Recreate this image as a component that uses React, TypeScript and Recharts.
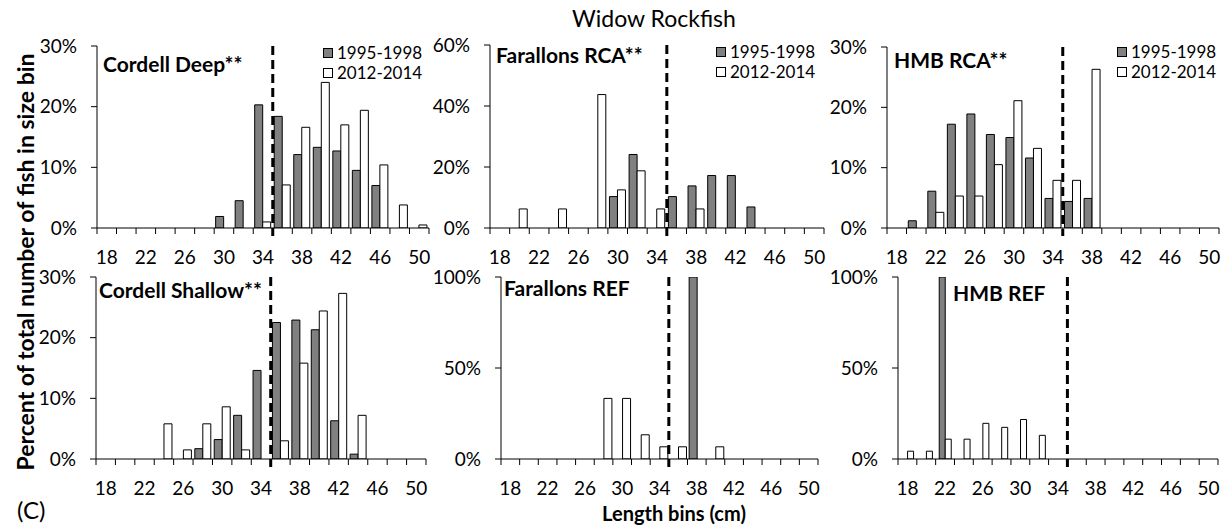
import { BarChart, Bar, XAxis, YAxis, ReferenceLine, Legend } from 'recharts';

// 2 cm length bins (lower edge); axis labels every other bin
const bins = [18, 20, 22, 24, 26, 28, 30, 32, 34, 36, 38, 40, 42, 44, 46, 48, 50];
const labelBins = [18, 22, 26, 30, 34, 38, 42, 46, 50];
const periods = ['1995-1998', '2012-2014'];
// the size cut-off (35 cm) sits on the right edge of the 34 bin
const cutoffBin = 34;

// percent of fish in each bin
const cordellDeep9598 = [0, 0, 0, 0, 0, 0, 1.9, 4.5, 20.3, 18.4, 12.1, 13.3, 12.7, 9.5, 7.0, 0, 0];
const cordellDeep1214 = [0, 0, 0, 0, 0, 0, 0, 0, 1.0, 7.1, 16.6, 24.0, 17.0, 19.4, 10.4, 3.8, 0.5];

const farallonsRca9598 = [0, 0, 0, 0, 0, 0, 10.3, 24.1, 0, 10.3, 13.8, 17.2, 17.2, 6.9, 0, 0, 0];
const farallonsRca1214 = [0, 6.25, 0, 6.25, 0, 43.75, 12.5, 18.75, 6.25, 0, 6.25, 0, 0, 0, 0, 0, 0];

const hmbRca9598 = [0, 1.2, 6.1, 17.2, 18.9, 15.5, 15.0, 11.6, 4.9, 4.4, 4.9, 0, 0, 0, 0, 0, 0];
const hmbRca1214 = [0, 0, 2.6, 5.3, 5.3, 10.5, 21.1, 13.2, 7.9, 7.9, 26.3, 0, 0, 0, 0, 0, 0];

const cordellShallow9598 = [0, 0, 0, 0, 0, 1.7, 3.2, 7.2, 14.6, 22.5, 22.9, 21.3, 6.3, 0.8, 0, 0, 0];
const cordellShallow1214 = [0, 0, 0, 5.8, 1.5, 5.8, 8.6, 1.5, 0, 3.0, 15.8, 24.4, 27.3, 7.2, 0, 0, 0];

const farallonsRef9598 = [0, 0, 0, 0, 0, 0, 0, 0, 0, 0, 100, 0, 0, 0, 0, 0, 0];
const farallonsRef1214 = [0, 0, 0, 0, 0, 33.3, 33.3, 13.3, 6.7, 6.7, 0, 6.7, 0, 0, 0, 0, 0];

const hmbRef9598 = [0, 0, 100, 0, 0, 0, 0, 0, 0, 0, 0, 0, 0, 0, 0, 0, 0];
const hmbRef1214 = [4.3, 4.3, 10.9, 10.9, 19.6, 17.4, 21.7, 13.0, 0, 0, 0, 0, 0, 0, 0, 0, 0];

const FONT = 'Lato, "Open Sans", sans-serif';
const GRAY = '#808080';

const YW = 70;
const MT = 16;
const MR = 10;
const XH = 44;

function makeRows(early: number[], late: number[]) {
  return bins.map((bin, i) => ({ bin, early: early[i], late: late[i] }));
}

const renderLegend = ({ payload }: any) => (
  <div style={{ fontFamily: FONT, fontSize: 17, lineHeight: '20px', color: '#000' }}>
    {(payload || []).map((entry: any) => (
      <div key={entry.value} style={{ display: 'flex', alignItems: 'center', whiteSpace: 'nowrap' }}>
        <span
          style={{
            display: 'inline-block',
            width: 8,
            height: 8,
            border: '1px solid #000',
            background: entry.color,
            marginRight: 4,
          }}
        />
        {entry.value}
      </div>
    ))}
  </div>
);

// dashed cut-off line, running a little below the axis as in the original
const cutoffShape = (p: any) => (
  <line
    x1={p.x1}
    x2={p.x2}
    y1={Math.min(p.y1, p.y2)}
    y2={Math.max(p.y1, p.y2) + 8}
    stroke="#000"
    strokeWidth={3}
    strokeDasharray="9 5"
  />
);

interface PanelProps {
  x0: number;
  top: number;
  pw: number;
  ph: number;
  yMax: number;
  yTicks: number[];
  early: number[];
  late: number[];
  gap: string;
  legendAt?: [number, number];
}

function Panel({ x0, top, pw, ph, yMax, yTicks, early, late, gap, legendAt }: PanelProps) {
  const left = x0 - YW;
  const chartTop = top - MT;
  const bw = pw / bins.length;

  const renderTick = (props: any) => {
    const { x, y, payload } = props;
    const i = props.index ?? payload.index;
    const edge = x - bw / 2;
    return (
      <g>
        <line x1={edge} x2={edge} y1={y} y2={y + 6} stroke="#000" />
        {i === bins.length - 1 && <line x1={x + bw / 2} x2={x + bw / 2} y1={y} y2={y + 6} stroke="#000" />}
        {labelBins.includes(payload.value) && (
          <text x={x} y={y + 28} textAnchor="middle" dominantBaseline="central" fontSize={19} fontFamily={FONT} fill="#000">
            {payload.value}
          </text>
        )}
      </g>
    );
  };

  return (
    <div style={{ position: 'absolute', left, top: chartTop }}>
      <BarChart
        width={pw + YW + MR}
        height={ph + MT + XH}
        data={makeRows(early, late)}
        margin={{ top: MT, right: MR, left: 0, bottom: 0 }}
        barGap={0}
        barCategoryGap={gap}
      >
        <XAxis
          dataKey="bin"
          interval={0}
          tick={renderTick}
          tickLine={false}
          tickSize={0}
          tickMargin={0}
          height={XH}
          axisLine={{ stroke: '#000' }}
        />
        <YAxis
          type="number"
          width={YW}
          domain={[0, yMax]}
          ticks={yTicks}
          interval={0}
          allowDataOverflow
          tickFormatter={(v: number) => `${v}%`}
          tick={{ fill: '#000', fontSize: 19, fontFamily: FONT }}
          tickSize={6}
          tickMargin={14}
          axisLine={{ stroke: '#000' }}
          tickLine={{ stroke: '#000' }}
        />
        <Bar dataKey="early" name={periods[0]} fill={GRAY} stroke="#000" strokeWidth={1} isAnimationActive={false} />
        <Bar dataKey="late" name={periods[1]} fill="#fff" stroke="#000" strokeWidth={1} isAnimationActive={false} />
        <ReferenceLine x={cutoffBin} position="end" ifOverflow="visible" stroke="#000" shape={cutoffShape} />
        {legendAt && (
          <Legend
            layout="vertical"
            align="center"
            verticalAlign="middle"
            content={renderLegend}
            wrapperStyle={{ left: legendAt[0] - left, top: legendAt[1] - chartTop, width: 'auto', height: 'auto' }}
          />
        )}
      </BarChart>
    </div>
  );
}

const titleStyle = { fontFamily: FONT, fontSize: 21, fontWeight: 700, fill: '#000' } as const;

export default function App() {
  return (
    <div style={{ position: 'absolute', left: 0, top: 0, width: 1228, height: 527, background: '#fff' }}>
      <Panel x0={97} top={46} pw={332} ph={182} yMax={30} yTicks={[0, 10, 20, 30]}
        early={cordellDeep9598} late={cordellDeep1214} gap="7.5%" legendAt={[323, 43]} />
      <Panel x0={490} top={45} pw={334} ph={183} yMax={60} yTicks={[0, 20, 40, 60]}
        early={farallonsRca9598} late={farallonsRca1214} gap="8%" legendAt={[716, 42]} />
      <Panel x0={887} top={47} pw={332} ph={181} yMax={30} yTicks={[0, 10, 20, 30]}
        early={hmbRca9598} late={hmbRca1214} gap="9%" legendAt={[1117, 42]} />
      <Panel x0={96} top={277} pw={330} ph={182} yMax={30} yTicks={[0, 10, 20, 30]}
        early={cordellShallow9598} late={cordellShallow1214} gap="9%" />
      <Panel x0={501} top={277} pw={317} ph={182} yMax={100} yTicks={[0, 50, 100]}
        early={farallonsRef9598} late={farallonsRef1214} gap="9%" />
      <Panel x0={898} top={277} pw={320} ph={182} yMax={100} yTicks={[0, 50, 100]}
        early={hmbRef9598} late={hmbRef1214} gap="19%" />

      <svg width={1228} height={527} style={{ position: 'absolute', left: 0, top: 0, pointerEvents: 'none' }}>
        <text x={654} y={27} textAnchor="middle" fontFamily={FONT} fontSize={23} fill="#000">Widow Rockfish</text>
        <text x={103} y={72} {...titleStyle}>Cordell Deep**</text>
        <text x={496} y={63} {...titleStyle}>Farallons RCA**</text>
        <text x={894} y={68} {...titleStyle}>HMB RCA**</text>
        <text x={99} y={298} {...titleStyle}>Cordell Shallow**</text>
        <text x={504} y={296} {...titleStyle}>Farallons REF</text>
        <text x={953} y={301} {...titleStyle}>HMB REF</text>
        <text transform="translate(34,262) rotate(-90)" textAnchor="middle" fontFamily={FONT} fontSize={23} fontWeight={700} fill="#000">
          Percent of total number of fish in size bin
        </text>
        <text x={17} y={519} fontFamily={FONT} fontSize={24} fill="#000">(C)</text>
        <text x={674} y={521} textAnchor="middle" fontFamily={FONT} fontSize={20} fontWeight={700} fill="#000">Length bins (cm)</text>
      </svg>
    </div>
  );
}
